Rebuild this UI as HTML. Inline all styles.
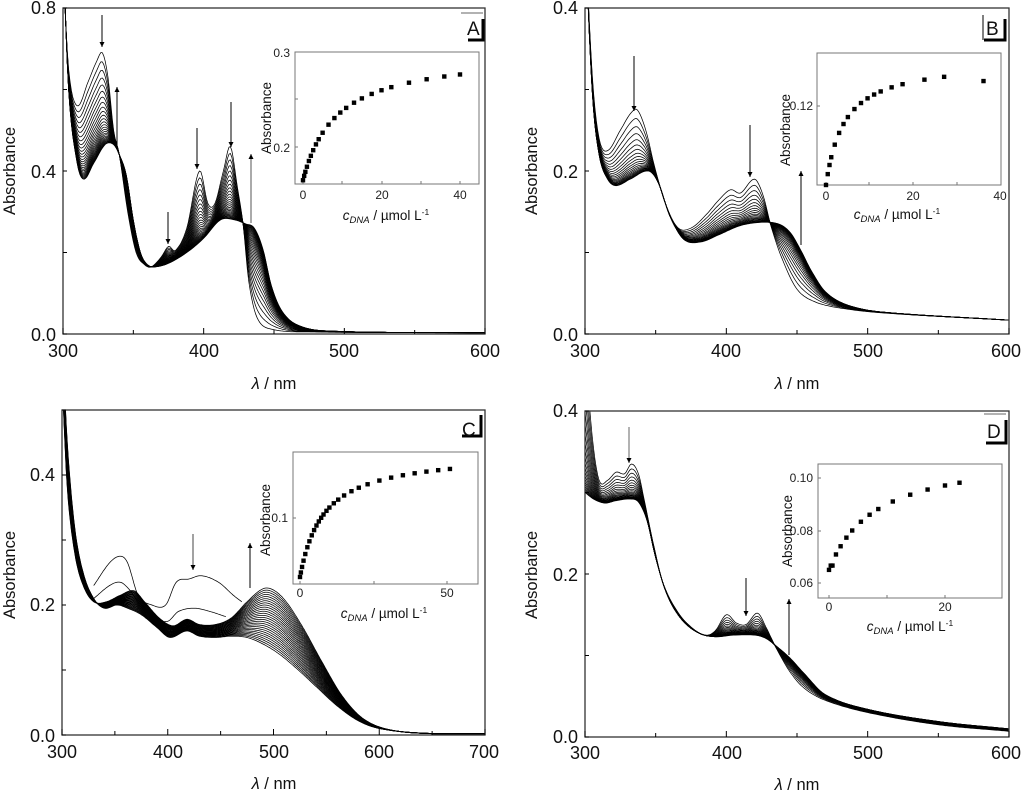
<!DOCTYPE html>
<html><head><meta charset="utf-8"><style>
html,body{margin:0;padding:0;background:#fff;}
svg{display:block;font-family:"Liberation Sans",sans-serif;}
.t{font-size:18px;fill:#111;}
.s{font-size:12px;fill:#222;}
.a{font-size:16.5px;fill:#111;}
.ai{font-size:13.5px;fill:#111;}
.l{font-size:19px;fill:#111;}
</style></head><body>
<svg id="s" width="1024" height="792" viewBox="0 0 1024 792" xmlns="http://www.w3.org/2000/svg">
<defs>
<clipPath id="cA"><rect x="63" y="8" width="422" height="326"/></clipPath>
<clipPath id="cB"><rect x="585" y="8" width="424" height="326"/></clipPath>
<clipPath id="cC"><rect x="62" y="410" width="423" height="325"/></clipPath>
<clipPath id="cD"><rect x="585" y="411" width="424" height="326"/></clipPath>
<marker id="ar" viewBox="0 0 10 10" refX="10" refY="5" markerWidth="7" markerHeight="5" orient="auto" markerUnits="userSpaceOnUse"><path d="M0,0 L10,5 L0,10 Z" fill="#000"/></marker>
</defs>
<g id="curves"></g>
<g id="frames" fill="none" stroke="#000"></g>
<!-- Panel A text -->
<text class="t" x="63" y="357" text-anchor="middle">300</text>
<text class="t" x="204" y="357" text-anchor="middle">400</text>
<text class="t" x="344" y="357" text-anchor="middle">500</text>
<text class="t" x="485" y="357" text-anchor="middle">600</text>
<text class="t" x="56" y="14" text-anchor="end">0.8</text>
<text class="t" x="56" y="178" text-anchor="end">0.4</text>
<text class="t" x="56" y="341" text-anchor="end">0.0</text>
<text class="a" x="274" y="389" text-anchor="middle"><tspan font-style="italic">λ</tspan> / nm</text>
<text class="a" transform="translate(15,171) rotate(-90)" text-anchor="middle">Absorbance</text>
<!-- Panel B -->
<text class="t" x="585" y="357" text-anchor="middle">300</text>
<text class="t" x="726" y="357" text-anchor="middle">400</text>
<text class="t" x="868" y="357" text-anchor="middle">500</text>
<text class="t" x="1006" y="357" text-anchor="middle">600</text>
<text class="t" x="578" y="14" text-anchor="end">0.4</text>
<text class="t" x="578" y="178" text-anchor="end">0.2</text>
<text class="t" x="578" y="341" text-anchor="end">0.0</text>
<text class="a" x="797" y="389" text-anchor="middle"><tspan font-style="italic">λ</tspan> / nm</text>
<text class="a" transform="translate(537,171) rotate(-90)" text-anchor="middle">Absorbance</text>
<!-- Panel C -->
<text class="t" x="62" y="758" text-anchor="middle">300</text>
<text class="t" x="168" y="758" text-anchor="middle">400</text>
<text class="t" x="274" y="758" text-anchor="middle">500</text>
<text class="t" x="379" y="758" text-anchor="middle">600</text>
<text class="t" x="484" y="758" text-anchor="middle">700</text>
<text class="t" x="55" y="481" text-anchor="end">0.4</text>
<text class="t" x="55" y="611" text-anchor="end">0.2</text>
<text class="t" x="55" y="742" text-anchor="end">0.0</text>
<text class="a" x="274" y="789" text-anchor="middle"><tspan font-style="italic">λ</tspan> / nm</text>
<text class="a" transform="translate(15,575) rotate(-90)" text-anchor="middle">Absorbance</text>
<!-- Panel D -->
<text class="t" x="585" y="759" text-anchor="middle">300</text>
<text class="t" x="727" y="759" text-anchor="middle">400</text>
<text class="t" x="868" y="759" text-anchor="middle">500</text>
<text class="t" x="1006" y="759" text-anchor="middle">600</text>
<text class="t" x="578" y="417" text-anchor="end">0.4</text>
<text class="t" x="578" y="581" text-anchor="end">0.2</text>
<text class="t" x="578" y="743" text-anchor="end">0.0</text>
<text class="a" x="797" y="790" text-anchor="middle"><tspan font-style="italic">λ</tspan> / nm</text>
<text class="a" transform="translate(537,575) rotate(-90)" text-anchor="middle">Absorbance</text>
<!-- panel letters -->
<text class="l" x="467" y="35">A</text>
<text class="l" x="986" y="35">B</text>
<text class="l" x="462" y="436">C</text>
<text class="l" x="987" y="438">D</text>
<!-- Inset A -->
<text class="s" x="290" y="57" text-anchor="end">0.3</text>
<text class="s" x="290" y="152" text-anchor="end">0.2</text>
<text class="s" x="303" y="199" text-anchor="middle">0</text>
<text class="s" x="382" y="199" text-anchor="middle">20</text>
<text class="s" x="460" y="199" text-anchor="middle">40</text>
<text class="ai" transform="translate(271,118) rotate(-90)" text-anchor="middle">Absorbance</text>
<text class="ai" x="386" y="220" text-anchor="middle"><tspan font-style="italic">c</tspan><tspan font-style="italic" font-size="9.5" dy="3">DNA</tspan><tspan dy="-3"> / µmol L</tspan><tspan font-size="8.5" dy="-5">-1</tspan></text>
<!-- Inset B -->
<text class="s" x="813" y="110" text-anchor="end">0.12</text>
<text class="s" x="826" y="200" text-anchor="middle">0</text>
<text class="s" x="913" y="200" text-anchor="middle">20</text>
<text class="s" x="1000" y="200" text-anchor="middle">40</text>
<text class="ai" transform="translate(790,130) rotate(-90)" text-anchor="middle">Absorbance</text>
<text class="ai" x="897" y="219" text-anchor="middle"><tspan font-style="italic">c</tspan><tspan font-style="italic" font-size="9.5" dy="3">DNA</tspan><tspan dy="-3"> / µmol L</tspan><tspan font-size="8.5" dy="-5">-1</tspan></text>
<!-- Inset C -->
<text class="s" x="288" y="522" text-anchor="end">0.1</text>
<text class="s" x="300" y="597" text-anchor="middle">0</text>
<text class="s" x="447" y="597" text-anchor="middle">50</text>
<text class="ai" transform="translate(270,520) rotate(-90)" text-anchor="middle">Absorbance</text>
<text class="ai" x="384" y="618" text-anchor="middle"><tspan font-style="italic">c</tspan><tspan font-style="italic" font-size="9.5" dy="3">DNA</tspan><tspan dy="-3"> / µmol L</tspan><tspan font-size="8.5" dy="-5">-1</tspan></text>
<!-- Inset D -->
<text class="s" x="813" y="482" text-anchor="end">0.10</text>
<text class="s" x="813" y="535" text-anchor="end">0.08</text>
<text class="s" x="813" y="587" text-anchor="end">0.06</text>
<text class="s" x="829" y="611" text-anchor="middle">0</text>
<text class="s" x="945" y="611" text-anchor="middle">20</text>
<text class="ai" transform="translate(792,531) rotate(-90)" text-anchor="middle">Absorbance</text>
<text class="ai" x="910" y="631" text-anchor="middle"><tspan font-style="italic">c</tspan><tspan font-style="italic" font-size="9.5" dy="3">DNA</tspan><tspan dy="-3"> / µmol L</tspan><tspan font-size="8.5" dy="-5">-1</tspan></text>
</svg>
<script>
(function(){
var NS="http://www.w3.org/2000/svg";
var cg=document.getElementById("curves"), fg=document.getElementById("frames");
function el(p,n,a){var e=document.createElementNS(NS,n);for(var k in a)e.setAttribute(k,a[k]);p.appendChild(e);return e;}
function interp(pts,x){
  if(x<=pts[0][0])return pts[0][1];
  for(var i=0;i<pts.length-1;i++){
    if(x<=pts[i+1][0]){
      var p0=pts[Math.max(0,i-1)],p1=pts[i],p2=pts[i+1],p3=pts[Math.min(pts.length-1,i+2)];
      var t=(x-p1[0])/(p2[0]-p1[0]);
      var m1=(p2[1]-p0[1])/(p2[0]-p0[0])*(p2[0]-p1[0]);
      var m2=(p3[1]-p1[1])/(p3[0]-p1[0])*(p2[0]-p1[0]);
      var t2=t*t,t3=t2*t;
      return (2*t3-3*t2+1)*p1[1]+(t3-2*t2+t)*m1+(-2*t3+3*t2)*p2[1]+(t3-t2)*m2;
    }
  }
  return pts[pts.length-1][1];
}
function mk(o){
  o.X=function(w){return o.x0+(w-o.w0)/(o.w1-o.w0)*(o.x1-o.x0);};
  o.Y=function(v){return o.y0-(v/o.vmax)*(o.y0-o.y1);};
  o.g=el(cg,"g",{"clip-path":"url(#"+o.clip+")",fill:"none",stroke:"#000","stroke-width":"0.75"});
}
function curve(o,f,wa,wb){
  var d="";
  for(var w=(wa||o.w0);w<=(wb||o.w1);w+=1){d+=(d?"L":"M")+o.X(w).toFixed(1)+","+o.Y(f(w)).toFixed(1);}
  el(o.g,"path",{d:d});
}
function panel(o){
  mk(o);
  for(var i=0;i<o.n;i++){
    var t=(1-Math.exp(-o.k*i/(o.n-1)))/(1-Math.exp(-o.k));
    (function(t){curve(o,function(w){return (1-t)*interp(o.s,w)+t*interp(o.e,w);});})(t);
  }
  frame(o);
}
function frame(o){
  el(fg,"rect",{x:o.x0,y:o.y1,width:o.x1-o.x0,height:o.y0-o.y1,"stroke-width":"1.3",stroke:"#333"});
  for(var w=o.w0;w<=o.w1;w+=50){var major=((w-o.w0)%100==0);var x=o.X(w);el(fg,"line",{x1:x,y1:o.y0,x2:x,y2:o.y0-(major?6:4),"stroke-width":"1"});}
  for(var v=0;v<=o.vmax+1e-9;v+=o.vt){var y=o.Y(v);el(fg,"line",{x1:o.x0,y1:y,x2:o.x0+4,y2:y,"stroke-width":"1"});}
}
var A={clip:"cA",x0:63,x1:485,y0:334,y1:8,w0:300,w1:600,vmax:0.8,vt:0.2,n:28,k:2.5,
s:[[300,0.9],[304,0.65],[310,0.56],[318,0.62],[324,0.67],[328,0.69],[332,0.63],[336,0.5],[340,0.44],[346,0.3],[352,0.2],[358,0.17],[363,0.165],[370,0.19],[375,0.215],[380,0.205],[388,0.26],[397,0.4],[403,0.32],[408,0.32],[414,0.4],[419,0.46],[424,0.36],[428,0.27],[432,0.13],[438,0.04],[448,0.012],[480,0.005],[600,0.003]],
e:[[300,0.95],[304,0.6],[310,0.42],[315,0.38],[322,0.42],[330,0.465],[336,0.465],[340,0.44],[345,0.39],[350,0.28],[355,0.2],[360,0.17],[366,0.165],[376,0.175],[390,0.205],[400,0.235],[412,0.28],[422,0.28],[430,0.27],[436,0.26],[442,0.21],[448,0.12],[455,0.06],[465,0.025],[485,0.008],[600,0.003]]};
panel(A);
var B={clip:"cB",x0:585,x1:1009,y0:334,y1:8,w0:300,w1:600,vmax:0.4,vt:0.1,n:22,k:3,
s:[[300,0.5],[305,0.32],[310,0.24],[316,0.225],[325,0.25],[332,0.27],[337,0.275],[343,0.25],[350,0.2],[358,0.155],[366,0.13],[375,0.13],[385,0.145],[395,0.165],[403,0.177],[410,0.173],[420,0.19],[426,0.17],[432,0.13],[440,0.09],[450,0.055],[462,0.04],[480,0.032],[510,0.026],[600,0.017]],
e:[[300,0.5],[305,0.3],[310,0.22],[316,0.19],[322,0.182],[332,0.19],[345,0.2],[352,0.185],[360,0.145],[370,0.116],[382,0.113],[395,0.122],[410,0.133],[425,0.137],[437,0.135],[445,0.125],[452,0.105],[460,0.078],[470,0.052],[485,0.036],[510,0.027],[600,0.017]]};
panel(B);
var C={clip:"cC",x0:62,x1:485,y0:735,y1:410,w0:300,w1:700,vmax:0.5,vt:0.1};
mk(C);
var Clo=[[300,0.62],[305,0.45],[312,0.32],[320,0.25],[330,0.21],[340,0.195],[352,0.2],[362,0.195],[375,0.185],[390,0.165],[402,0.15],[418,0.16],[430,0.152],[445,0.15],[460,0.152],[475,0.15],[490,0.14],[505,0.125],[520,0.105],[540,0.075],[560,0.045],[580,0.022],[600,0.01],[640,0.003],[700,0.002]];
var Chi=[[300,0.55],[305,0.38],[312,0.28],[320,0.23],[330,0.205],[342,0.205],[355,0.215],[368,0.222],[378,0.205],[392,0.18],[405,0.168],[418,0.178],[430,0.17],[445,0.17],[460,0.18],[475,0.205],[490,0.225],[500,0.223],[512,0.205],[528,0.165],[545,0.115],[565,0.06],[585,0.025],[610,0.008],[650,0.002],[700,0.002]];
for(var i=0;i<28;i++){(function(t){curve(C,function(w){return (1-t)*interp(Clo,w)+t*interp(Chi,w);});})(i/27);}
curve(C,function(w){return interp([[330,0.23],[345,0.265],[355,0.275],[362,0.265],[372,0.215],[385,0.2],[398,0.2],[408,0.235],[420,0.24],[432,0.245],[448,0.235],[462,0.215],[470,0.205]],w);},330,470);
curve(C,function(w){return interp([[330,0.21],[345,0.23],[355,0.235],[363,0.225],[372,0.205],[388,0.18],[400,0.175],[410,0.19],[425,0.195],[440,0.19],[455,0.182]],w);},330,455);
frame(C);
var D={clip:"cD",x0:585,x1:1009,y0:737,y1:411,w0:300,w1:600,vmax:0.4,vt:0.1,n:22,k:3,
s:[[300,0.48],[305,0.37],[310,0.315],[316,0.315],[322,0.325],[328,0.323],[333,0.335],[338,0.322],[342,0.29],[348,0.24],[355,0.19],[365,0.155],[375,0.135],[385,0.125],[392,0.13],[400,0.15],[407,0.14],[414,0.138],[422,0.152],[428,0.135],[435,0.11],[445,0.08],[455,0.06],[470,0.045],[500,0.03],[550,0.015],[600,0.007]],
e:[[300,0.3],[306,0.292],[314,0.287],[322,0.29],[332,0.292],[338,0.288],[344,0.265],[350,0.22],[358,0.175],[368,0.145],[380,0.128],[392,0.123],[405,0.125],[420,0.125],[428,0.121],[435,0.112],[445,0.097],[455,0.078],[470,0.052],[500,0.034],[550,0.019],[600,0.01]]};
panel(D);
function inset(bx,by,bw,bh,pts,xt,yt){
  el(fg,"rect",{x:bx,y:by,width:bw,height:bh,stroke:"#777","stroke-width":"1"});
  xt.forEach(function(x){el(fg,"line",{x1:x,y1:by+bh,x2:x,y2:by+bh-3,stroke:"#777"});});
  yt.forEach(function(y){el(fg,"line",{x1:bx,y1:y,x2:bx+3,y2:y,stroke:"#777"});});
  pts.forEach(function(p){el(fg,"rect",{x:p[0]-2.2,y:p[1]-2.2,width:4.4,height:4.4,fill:"#000",stroke:"none"});});
}
var ca=[0,0.3,0.6,1,1.5,2,2.6,3.3,4,5,6.5,8,9.5,11,13,15,17.5,20,22.5,27,31.5,36,40];
inset(295,52,184,132,ca.map(function(c){var v=0.165+0.135*c/(c+8.5);return [303+c*157/40,147-(v-0.2)*950];}),[303,342,382,421,460],[52,99,147]);
var cb=[0,0.4,0.8,1.2,2,3,4,5,6.5,8,9.5,11,12.5,15,17.5,22.5,27,36];
inset(817,53,184,132,cb.map(function(c){var y=185-125*c/(c+4.2)+(c==36?8:0);return [826+c*4.375,y];}),[826,869,913,957,1001],[106]);
var cc=[0,0.3,0.7,1.2,1.8,2.5,3.2,4,4.8,5.6,6.4,7.2,8,9,10,11.5,13,15,17.5,20,23,27,31,35,39,43,47,51];
inset(293,452,185,132,cc.map(function(c){return [300+c*2.94,577-125*c/(c+8)];}),[300,374,447],[518]);
var cd=[0,0.3,0.6,1.2,2,3,4,5.5,7,8.5,11,14,17,20,22.5];
inset(818,464,184,134,cd.map(function(c){var v=0.065+0.045*c/(c+8)+(c==0.6?-0.0015:0);return [829+c*5.8,583-(v-0.06)*2625];}),[829,887,945],[478,531,583]);
function arr(x,y1,y2,col){el(fg,"line",{x1:x,y1:y1,x2:x,y2:y2,stroke:col||"#000","stroke-width":"1","marker-end":"url(#ar)"});}
arr(102,15,47);arr(117,145,87);arr(168,212,244);arr(197,128,169);arr(231,102,147);arr(251,223,154,"#555");
arr(634,56,111);arr(750,125,177);arr(801,245,171);
arr(193,534,570,"#444");arr(250,588,543);
arr(629,427,463,"#666");arr(746,578,616);arr(789,655,599);
function br(x,y,w,h,top){el(fg,"path",{d:"M"+x+","+(y+h)+"H"+(x+w)+"V"+y,"stroke-width":"3"});if(top)el(fg,"line",{x1:x+w-22,y1:y-6,x2:x+w,y2:y-6,stroke:"#666","stroke-width":"1"});}
br(468,19,15,21,true);br(984,19,21,21,false);el(fg,"line",{x1:983,y1:15,x2:983,y2:40,"stroke-width":"1"});
br(462,415,19,21,false);br(986,420,20,23,true);
})();
</script>
</body></html>
